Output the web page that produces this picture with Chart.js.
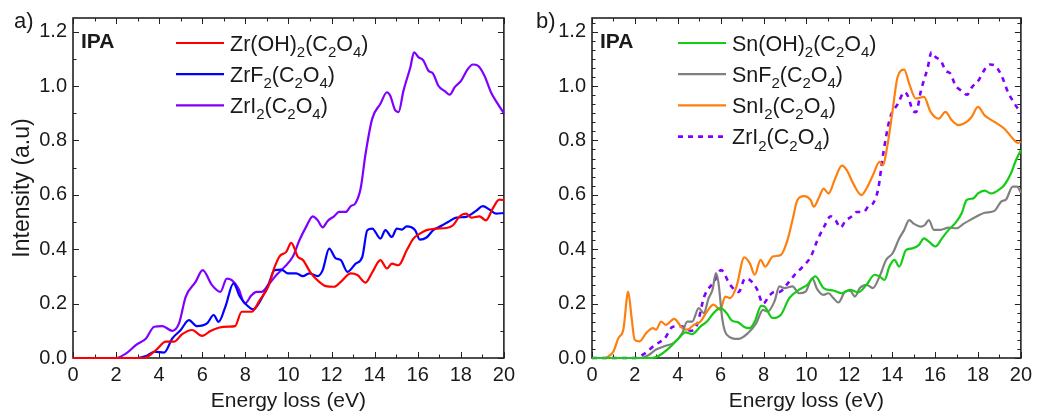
<!DOCTYPE html>
<html><head><meta charset="utf-8">
<script src="https://cdn.jsdelivr.net/npm/chart.js@4.4.0/dist/chart.umd.min.js"></script>
<style>
html,body{margin:0;padding:0;background:#fff;}
#wrap{position:relative;width:1037px;height:414px;overflow:hidden;}
.box{position:absolute;top:0;height:414px;}
canvas{display:block;}
</style></head><body>
<div id="wrap">
<div class="box" style="left:0;width:520px"><canvas id="cA" width="520" height="414"></canvas></div>
<div class="box" style="left:520px;width:517px"><canvas id="cB" width="517" height="414"></canvas></div>
</div>
<script>
// ---- tick labels ----
const xTicks = [0, 2, 4, 6, 8, 10, 12, 14, 16, 18, 20];
const yTicks = [0, 0.2, 0.4, 0.6, 0.8, 1.0, 1.2];

// ---- panel a) ----
const zrOH_E = [0, 3.3, 3.85, 4.31, 4.69, 5.07, 5.53, 5.99, 6.38, 6.76, 7.22, 7.52, 7.83, 8.29, 8.67, 9.06, 9.36, 9.59, 9.9, 10.13, 10.44, 10.67, 11.05, 11.43, 11.74, 12.12, 12.43, 12.89, 13.2, 13.58, 13.89, 14.27, 14.57, 14.8, 15.11, 15.49, 15.8, 16.1, 16.41, 16.87, 17.33, 17.64, 17.95, 18.25, 18.48, 18.87, 19.17, 19.48, 19.79, 20];
const zrOH_I = [0, 0, 0.029, 0.06, 0.06, 0.088, 0.103, 0.081, 0.099, 0.111, 0.115, 0.117, 0.17, 0.17, 0.213, 0.262, 0.335, 0.374, 0.39, 0.423, 0.372, 0.36, 0.311, 0.28, 0.264, 0.262, 0.28, 0.311, 0.305, 0.277, 0.315, 0.36, 0.329, 0.347, 0.341, 0.396, 0.439, 0.457, 0.47, 0.476, 0.478, 0.488, 0.521, 0.531, 0.516, 0.521, 0.506, 0.549, 0.582, 0.58];

const zrF2_E = [0, 3.0, 3.39, 3.77, 4.23, 4.61, 5.0, 5.38, 5.76, 6.22, 6.53, 6.76, 7.07, 7.45, 7.75, 8.06, 8.37, 8.67, 9.06, 9.36, 9.67, 9.98, 10.36, 10.67, 10.97, 11.36, 11.59, 11.89, 12.2, 12.43, 12.74, 13.12, 13.43, 13.66, 13.89, 14.27, 14.5, 14.8, 15.03, 15.26, 15.49, 15.88, 16.1, 16.41, 16.72, 17.1, 17.41, 17.79, 18.25, 18.71, 19.02, 19.33, 19.63, 20];
const zrF2_I = [0, 0, 0.007, 0.023, 0.02, 0.072, 0.103, 0.139, 0.117, 0.127, 0.158, 0.133, 0.188, 0.274, 0.225, 0.195, 0.179, 0.207, 0.268, 0.323, 0.325, 0.311, 0.311, 0.301, 0.311, 0.301, 0.323, 0.402, 0.366, 0.36, 0.317, 0.347, 0.372, 0.47, 0.476, 0.439, 0.47, 0.445, 0.476, 0.472, 0.484, 0.47, 0.435, 0.443, 0.47, 0.486, 0.5, 0.516, 0.519, 0.541, 0.558, 0.546, 0.531, 0.533];

const zrI2_E = [0, 2.0, 2.47, 2.93, 3.39, 3.77, 4.15, 4.61, 4.92, 5.23, 5.69, 6.02, 6.45, 6.84, 7.14, 7.37, 7.68, 7.98, 8.29, 8.52, 8.75, 9.06, 9.44, 9.82, 10.2, 10.51, 10.82, 11.13, 11.36, 11.59, 11.82, 12.12, 12.35, 12.66, 12.89, 13.12, 13.35, 13.58, 13.89, 14.27, 14.57, 14.72, 14.96, 15.11, 15.34, 15.66, 15.83, 16.03, 16.26, 16.49, 16.72, 16.95, 17.26, 17.49, 17.72, 18.02, 18.33, 18.56, 18.79, 19.1, 19.4, 19.71, 20];
const zrI2_I = [0, 0, 0.017, 0.048, 0.072, 0.115, 0.117, 0.10, 0.127, 0.225, 0.28, 0.323, 0.268, 0.243, 0.292, 0.286, 0.255, 0.20, 0.231, 0.243, 0.243, 0.268, 0.305, 0.335, 0.372, 0.433, 0.482, 0.521, 0.506, 0.48, 0.504, 0.521, 0.537, 0.537, 0.558, 0.57, 0.623, 0.751, 0.88, 0.935, 0.977, 0.965, 0.91, 0.904, 0.983, 1.069, 1.124, 1.106, 1.094, 1.057, 1.045, 1.002, 0.981, 0.968, 0.996, 1.02, 1.063, 1.079, 1.075, 1.038, 0.977, 0.935, 0.90];

// ---- panel b) ----
const snOH_E = [0, 2.8, 3.14, 3.6, 3.98, 4.37, 4.67, 5.06, 5.36, 5.67, 5.98, 6.28, 6.51, 6.82, 7.1, 7.36, 7.59, 7.89, 8.05, 8.43, 8.81, 9.2, 9.66, 10.04, 10.42, 10.8, 11.26, 11.65, 12.03, 12.41, 12.8, 13.18, 13.41, 13.64, 13.87, 14.1, 14.33, 14.64, 14.94, 15.25, 15.48, 15.71, 16.02, 16.32, 16.63, 16.93, 17.24, 17.47, 17.78, 18.0, 18.31, 18.62, 19.0, 19.23, 19.54, 19.77, 20];
const snOH_I = [0, 0, 0.009, 0.037, 0.067, 0.094, 0.088, 0.116, 0.134, 0.165, 0.183, 0.165, 0.138, 0.131, 0.114, 0.11, 0.134, 0.192, 0.189, 0.147, 0.159, 0.22, 0.251, 0.269, 0.3, 0.257, 0.248, 0.238, 0.251, 0.241, 0.269, 0.306, 0.3, 0.287, 0.336, 0.361, 0.336, 0.397, 0.403, 0.416, 0.44, 0.428, 0.41, 0.44, 0.471, 0.495, 0.532, 0.581, 0.587, 0.605, 0.615, 0.605, 0.62, 0.636, 0.679, 0.727, 0.764];

const snF2_E = [0, 2.3, 2.6, 2.99, 3.37, 3.83, 4.21, 4.44, 4.67, 4.98, 5.21, 5.44, 5.62, 5.78, 5.9, 6.08, 6.28, 6.82, 7.28, 7.66, 7.97, 8.2, 8.51, 8.74, 8.97, 9.35, 9.66, 9.96, 10.27, 10.5, 10.8, 11.03, 11.26, 11.49, 11.8, 12.03, 12.26, 12.49, 12.8, 13.1, 13.41, 13.72, 14.02, 14.33, 14.56, 14.79, 15.02, 15.33, 15.52, 15.71, 15.94, 16.25, 16.63, 17.01, 17.32, 17.62, 17.93, 18.31, 18.77, 19.08, 19.31, 19.62, 19.82, 20];
const snF2_I = [0, 0, 0.009, 0.031, 0.043, 0.057, 0.092, 0.134, 0.134, 0.183, 0.165, 0.22, 0.251, 0.312, 0.275, 0.141, 0.086, 0.07, 0.092, 0.128, 0.177, 0.171, 0.208, 0.263, 0.257, 0.263, 0.238, 0.244, 0.293, 0.253, 0.232, 0.238, 0.22, 0.204, 0.244, 0.248, 0.226, 0.257, 0.269, 0.257, 0.3, 0.361, 0.385, 0.44, 0.471, 0.507, 0.493, 0.483, 0.489, 0.507, 0.471, 0.471, 0.479, 0.477, 0.493, 0.507, 0.52, 0.534, 0.541, 0.575, 0.583, 0.63, 0.63, 0.608];

const snI2_E = [0, 0.6, 0.77, 1.0, 1.23, 1.46, 1.69, 1.84, 1.99, 2.22, 2.53, 2.84, 2.99, 3.22, 3.45, 3.83, 4.21, 4.44, 4.75, 5.06, 5.36, 5.67, 5.98, 6.21, 6.44, 6.74, 7.1, 7.36, 7.59, 7.86, 8.08, 8.43, 8.81, 9.12, 9.35, 9.58, 9.89, 10.19, 10.34, 10.57, 10.8, 11.03, 11.34, 11.65, 11.88, 12.18, 12.57, 12.8, 13.1, 13.41, 13.56, 13.79, 14.02, 14.25, 14.56, 14.79, 15.1, 15.48, 15.79, 16.17, 16.48, 16.78, 17.09, 17.47, 17.7, 18.0, 18.31, 18.77, 19.23, 19.62, 19.85, 20];
const snI2_I = [0, 0, 0.006, 0.024, 0.073, 0.104, 0.244, 0.153, 0.067, 0.061, 0.092, 0.11, 0.104, 0.134, 0.122, 0.144, 0.11, 0.104, 0.122, 0.134, 0.171, 0.196, 0.177, 0.226, 0.22, 0.263, 0.37, 0.348, 0.306, 0.361, 0.336, 0.373, 0.379, 0.434, 0.507, 0.581, 0.595, 0.581, 0.556, 0.587, 0.623, 0.605, 0.66, 0.707, 0.691, 0.642, 0.599, 0.623, 0.672, 0.721, 0.709, 0.788, 0.911, 1.033, 1.06, 1.009, 0.954, 0.96, 0.905, 0.88, 0.905, 0.874, 0.856, 0.868, 0.886, 0.923, 0.892, 0.868, 0.843, 0.807, 0.791, 0.795];

// ---- labels ----
const panelLabels = ['a)', 'b)'];
const solventLabel = 'IPA';
const seriesNamesA = ['Zr(OH)_2(C_2O_4)', 'ZrF_2(C_2O_4)', 'ZrI_2(C_2O_4)'];
const seriesNamesB = ['Sn(OH)_2(C_2O_4)', 'SnF_2(C_2O_4)', 'SnI_2(C_2O_4)', 'ZrI_2(C_2O_4)'];
const xTitle = 'Energy loss (eV)';
const yTitle = 'Intensity (a.u)';

const FONT = '"Liberation Sans", Arial, Helvetica, sans-serif';
const TXT = '#1a1a1a';

function pts(E, I) { return E.map((e, i) => ({ x: e, y: I[i] })); }

function ds(label, E, I, color, dash) {
  return {
    label, data: pts(E, I), borderColor: color, backgroundColor: color,
    borderWidth: dash ? 2.6 : 2.2, borderDash: dash || [], pointRadius: 0,
    cubicInterpolationMode: 'monotone', fill: false, clip: 3
  };
}

// draw text with "_d" subscripts
function drawRich(ctx, str, x, baseline, size) {
  const parts = str.split(/(_\d)/).filter(s => s.length);
  let cx = x;
  for (const p of parts) {
    if (p[0] === '_') {
      ctx.font = `${Math.round(size * 0.68)}px ${FONT}`;
      ctx.fillText(p.slice(1), cx, baseline + size * 0.3);
      cx += ctx.measureText(p.slice(1)).width;
    } else {
      ctx.font = `${size}px ${FONT}`;
      ctx.fillText(p, cx, baseline);
      cx += ctx.measureText(p).width;
    }
  }
}

const decorPlugin = {
  id: 'decor',
  beforeDatasetsDraw(chart, args, opts) {
    const { ctx, chartArea: { left, right, top, bottom }, scales: { x, y } } = chart;
    ctx.save();
    ctx.strokeStyle = '#222';
    ctx.lineWidth = 1;
    ctx.beginPath();
    for (let e = 0; e <= 20; e++) {
      const px = Math.round(x.getPixelForValue(e)) + 0.5;
      const len = e % 2 === 0 ? 6 : 3.5;
      ctx.moveTo(px, bottom); ctx.lineTo(px, bottom - len);
      ctx.moveTo(px, top); ctx.lineTo(px, top + len);
    }
    const sub = opts.ySub;
    const n = 6 * sub;
    for (let k = 0; k <= n + sub; k++) {
      const v = k * 0.2 / sub;
      if (v > 1.25) break;
      const py = Math.round(y.getPixelForValue(v)) + 0.5;
      const len = k % sub === 0 ? 6 : 3.5;
      ctx.moveTo(left, py); ctx.lineTo(left + len, py);
      ctx.moveTo(right, py); ctx.lineTo(right - len, py);
    }
    ctx.stroke();
    ctx.lineWidth = 1.6;
    ctx.strokeRect(left, top, right - left, bottom - top);
    ctx.restore();
  },
  afterDraw(chart, args, opts) {
    const { ctx } = chart;
    ctx.save();
    ctx.fillStyle = TXT;
    ctx.textBaseline = 'alphabetic';
    ctx.textAlign = 'left';
    ctx.font = `22px ${FONT}`;
    ctx.fillText(opts.panel, opts.panelX, 28);
    ctx.font = `bold 21px ${FONT}`;
    ctx.fillText(solventLabel, chart.chartArea.left + 8, 48);
    // legend
    const sets = chart.data.datasets;
    opts.names.forEach((name, i) => {
      const d = sets[i];
      const cy = 43 + i * 31.2;
      ctx.save();
      ctx.strokeStyle = d.borderColor;
      ctx.lineWidth = d.borderWidth;
      ctx.setLineDash(d.borderDash || []);
      ctx.beginPath();
      ctx.moveTo(opts.legX, cy); ctx.lineTo(opts.legX + 48, cy);
      ctx.stroke();
      ctx.restore();
      ctx.fillStyle = TXT;
      drawRich(ctx, name, opts.legX + 54, cy + 7.5, 21.5);
    });
    ctx.restore();
  }
};

function makeOptions(yWidth, padRight, decor) {
  return {
    responsive: false, animation: false,
    layout: { padding: { left: 0, right: padRight, top: 16, bottom: 0 } },
    plugins: { legend: { display: false }, tooltip: { enabled: false }, decor },
    scales: {
      x: {
        type: 'linear', min: 0, max: 20,
        afterBuildTicks: s => { s.ticks = xTicks.map(v => ({ value: v })); },
        afterFit: s => { s.height = 56; },
        grid: { display: false, drawTicks: false }, border: { display: false },
        ticks: { font: { size: 20, family: FONT }, color: TXT, padding: 5, maxRotation: 0, autoSkip: false },
        title: { display: true, text: xTitle, font: { size: 21, family: FONT }, color: TXT, padding: { top: 0, bottom: 0 } }
      },
      y: {
        type: 'linear', min: 0, max: 1.25,
        afterBuildTicks: s => { s.ticks = yTicks.map(v => ({ value: v })); },
        afterFit: s => { s.width = yWidth; },
        grid: { display: false, drawTicks: false }, border: { display: false },
        ticks: { font: { size: 20, family: FONT }, color: TXT, padding: 6, callback: v => Number(v).toFixed(1) },
        title: { display: decor.showYTitle, text: yTitle, font: { size: 23, family: FONT }, color: TXT, padding: { top: 9, bottom: 0 } }
      }
    }
  };
}

new Chart(document.getElementById('cA'), {
  type: 'line',
  data: {
    datasets: [
      ds(seriesNamesA[0], zrOH_E, zrOH_I, '#ff0000'),
      ds(seriesNamesA[1], zrF2_E, zrF2_I, '#0000ff'),
      ds(seriesNamesA[2], zrI2_E, zrI2_I, '#8000ff')
    ]
  },
  options: makeOptions(73, 12, { ySub: 2, panel: panelLabels[0], panelX: 14, legX: 176, names: seriesNamesA, showYTitle: true }),
  plugins: [decorPlugin]
});

new Chart(document.getElementById('cB'), {
  type: 'line',
  data: {
    datasets: [
      ds(seriesNamesB[0], snOH_E, snOH_I, '#14cc14'),
      ds(seriesNamesB[1], snF2_E, snF2_I, '#808080'),
      ds(seriesNamesB[2], snI2_E, snI2_I, '#ff7f0e'),
      ds(seriesNamesB[3], zrI2_E, zrI2_I, '#8000ff', [5, 5])
    ]
  },
  options: makeOptions(72, 10, { ySub: 6, panel: panelLabels[1], panelX: 16, legX: 158, names: seriesNamesB, showYTitle: false }),
  plugins: [decorPlugin]
});
</script>
</body></html>
